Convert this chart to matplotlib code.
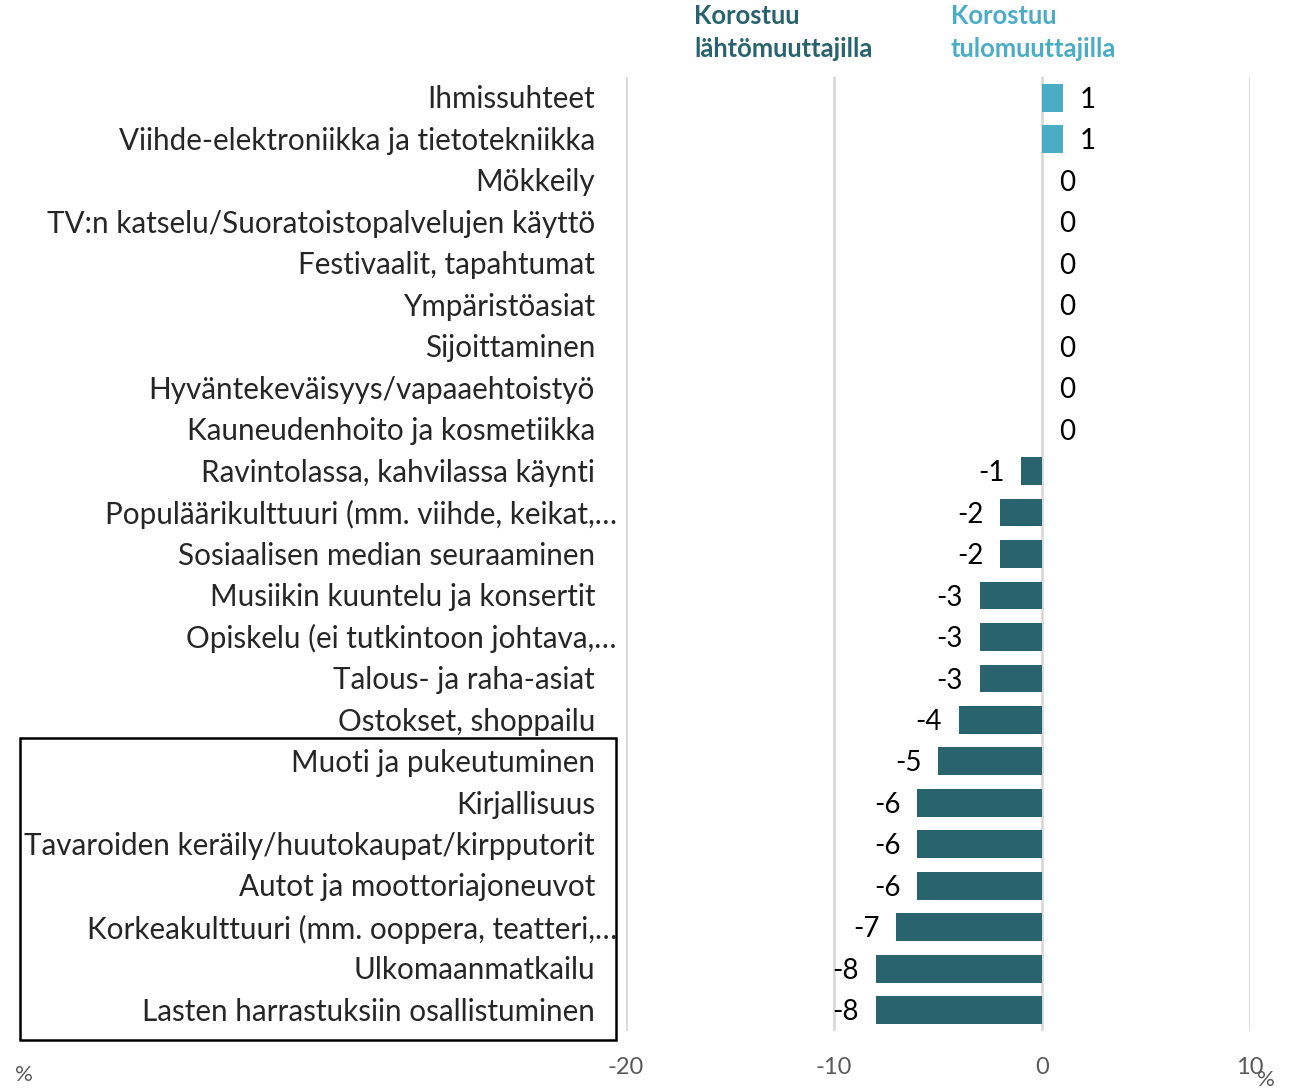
import matplotlib
matplotlib.use("Agg")
import matplotlib.pyplot as plt
import matplotlib.transforms as mtransforms
from matplotlib.patches import Rectangle

categories = [
    "Ihmissuhteet",
    "Viihde-elektroniikka ja tietotekniikka",
    "Mökkeily",
    "TV:n katselu/Suoratoistopalvelujen käyttö",
    "Festivaalit, tapahtumat",
    "Ympäristöasiat",
    "Sijoittaminen",
    "Hyväntekeväisyys/vapaaehtoistyö",
    "Kauneudenhoito ja kosmetiikka",
    "Ravintolassa, kahvilassa käynti",
    "Populäärikulttuuri (mm. viihde, keikat,…",
    "Sosiaalisen median seuraaminen",
    "Musiikin kuuntelu ja konsertit",
    "Opiskelu (ei tutkintoon johtava,…",
    "Talous- ja raha-asiat",
    "Ostokset, shoppailu",
    "Muoti ja pukeutuminen",
    "Kirjallisuus",
    "Tavaroiden keräily/huutokaupat/kirpputorit",
    "Autot ja moottoriajoneuvot",
    "Korkeakulttuuri (mm. ooppera, teatteri,…",
    "Ulkomaanmatkailu",
    "Lasten harrastuksiin osallistuminen",
]
values = [1, 1, 0, 0, 0, 0, 0, 0, 0, -1, -2, -2, -3, -3, -3, -4, -5, -6, -6, -6, -7, -8, -8]
xticks = [-20, -10, 0, 10]
header_left = "Korostuu\nlähtömuuttajilla"
header_right = "Korostuu\ntulomuuttajilla"

DARK = "#28636e"
LIGHT = "#4bacc6"
FONT = ["Lato", "DejaVu Sans"]
plt.rcParams["font.family"] = FONT

W, H = 1294, 1088
fig = plt.figure(figsize=(W / 100, H / 100), dpi=100)
ax = fig.add_axes([626 / W, (H - 1031) / H, (1250 - 626) / W, (1031 - 77) / H])

y = list(range(len(categories)))
colors = [LIGHT if v > 0 else DARK for v in values]
ax.barh(y, values, height=0.67, color=colors, zorder=3)
ax.set_ylim(len(categories) - 0.5, -0.5)
ax.set_xlim(-20, 10)
ax.set_xticks(xticks)
ax.set_xticklabels([str(t) for t in xticks], fontsize=17, color="#595959")
ax.tick_params(axis="x", length=0, pad=19)
ax.set_yticks([])
for s in ax.spines.values():
    s.set_visible(False)
ax.grid(axis="x", color="#d9d9d9", linewidth=2, zorder=0)

for yi, v in zip(y, values):
    if v < 0:
        ax.annotate(str(v), (v, yi), xytext=(-12, -1.5), textcoords="offset points",
                    ha="right", va="center", fontsize=20, color="#000000")
    else:
        ax.annotate(str(v), (v, yi), xytext=(12, -1.5), textcoords="offset points",
                    ha="left", va="center", fontsize=20, color="#000000")

# category labels
lab_tr = mtransforms.blended_transform_factory(fig.transFigure, ax.transData)
for yi, c in zip(y, categories):
    xpix = 617 if c.endswith("…") else 595
    ax.text(xpix / W, yi + 0.04, c, transform=lab_tr,
            ha="right", va="center", fontsize=21.3, color="#262626")

# box around last labels
fig.patches.append(Rectangle((20 / W, (H - 1040) / H), (616 - 20) / W, (1040 - 738) / H,
                             transform=fig.transFigure, fill=False, edgecolor="black",
                             linewidth=1.8))

fig.text(694 / W, 1 - 4 / H, header_left, ha="left", va="top", fontsize=18.4,
         fontweight="bold", color=DARK, linespacing=1.45)
fig.text(951 / W, 1 - 4 / H, header_right, ha="left", va="top", fontsize=18.4,
         fontweight="bold", color=LIGHT, linespacing=1.45)

fig.text(15 / W, 1 - 1075 / H, "%", ha="left", va="center", fontsize=16, color="#595959")
fig.text(1257 / W, 1 - 1080 / H, "%", ha="left", va="center", fontsize=16, color="#595959")

fig.savefig("out.png", dpi=100, facecolor="white")
